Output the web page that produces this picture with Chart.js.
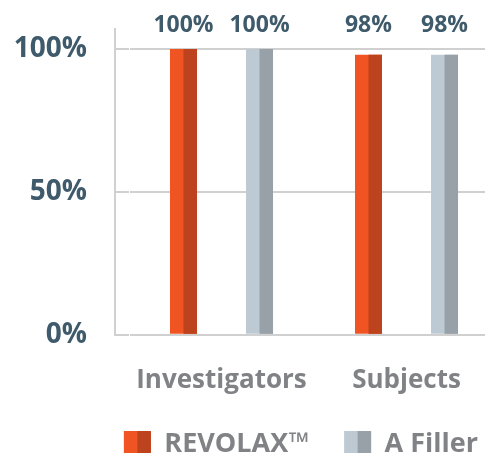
<!DOCTYPE html>
<html>
<head>
<meta charset="utf-8">
<script src="https://cdn.jsdelivr.net/npm/chart.js@4"></script>
<style>
  html, body { margin: 0; padding: 0; background: #fff; overflow: hidden; }
  #wrap { width: 513px; height: 468px; position: relative; }
</style>
</head>
<body>
<div id="wrap"><canvas id="chart"></canvas></div>
<script>
const categories = ['Investigators', 'Subjects'];
const revolax = [100, 98];
const aFiller = [100, 98];
const yTicks = [0, 50, 100];

const slate = '#3f5b6b';
const greyText = '#808285';
const gridColor = '#d0d0d0';

// each bar is two-tone: light left half, dark right half
const twoTone = {
    id: 'twoTone',
    afterDatasetsDraw(chart) {
        const ctx = chart.ctx;
        const yScale = chart.scales.y;
        ctx.save();
        chart.data.datasets.forEach((ds, i) => {
            const meta = chart.getDatasetMeta(i);
            meta.data.forEach((bar, j) => {
                const p = bar.getProps(['x', 'y', 'base', 'width'], true);
                ctx.fillStyle = ds.darkColor;
                ctx.fillRect(p.x, p.y, p.width / 2, p.base - p.y);
                ctx.fillStyle = slate;
                ctx.font = 'bold 23px "Open Sans"';
                ctx.textAlign = 'center';
                ctx.textBaseline = 'alphabetic';
                ctx.fillText(ds.data[j] + '%', p.x, yScale.getPixelForValue(100) - 17);
            });
        });
        ctx.restore();
    },
    afterDraw(chart) {
        const lg = chart.legend;
        const ctx = chart.ctx;
        const lo = lg.options.labels;
        ctx.save();
        lg.legendHitBoxes.forEach((hb, i) => {
            const ds = chart.data.datasets[lg.legendItems[i].datasetIndex];
            const top = hb.top + Math.max((lo.font.size - lo.boxHeight) / 2, 0);
            ctx.fillStyle = ds.darkColor;
            ctx.fillRect(hb.left + lo.boxWidth / 2, top, lo.boxWidth / 2, lo.boxHeight);
        });
        ctx.restore();
    }
};

function fixTicks(scale) {
    scale.ticks = yTicks.map(v => ({ value: v }));
}

new Chart(document.getElementById('chart'), {
    type: 'bar',
    data: {
        labels: categories,
        datasets: [{
            label: 'REVOLAX™',
            data: revolax,
            backgroundColor: '#f05423',
            darkColor: '#bd431e',
            borderWidth: 0
        },
        {
            label: 'A Filler',
            data: aFiller,
            backgroundColor: '#bdcad3',
            darkColor: '#97a1a7',
            borderWidth: 0
        }]
    },
    options: {
        responsive: true,
        maintainAspectRatio: false,
        animation: false,
        categoryPercentage: 0.822,
        barPercentage: 0.355,
        layout: { padding: { top: 29 } },
        scales: {
            x: {
                afterFit(scale) { scale.height -= 30; },
                grid: { display: false, drawTicks: false },
                border: { display: false },
                ticks: {
                    color: greyText,
                    font: { family: 'Open Sans', size: 26, weight: 'bold' },
                    padding: 30
                }
            },
            y: {
                min: 0,
                max: 107,
                weight: 2,
                afterBuildTicks: fixTicks,
                afterFit(scale) { scale.width = 115; },
                grid: { color: gridColor, lineWidth: 2, drawTicks: true, tickLength: 28, tickColor: 'rgba(0,0,0,0)' },
                border: { display: true, color: gridColor, width: 2 },
                ticks: {
                    color: slate,
                    font: { family: 'Open Sans', size: 28, weight: 'bold' },
                    padding: 0,
                    callback: (v) => v + '%'
                }
            },
            yStub: {
                type: 'linear',
                position: 'left',
                min: 0,
                max: 107,
                weight: 1,
                afterBuildTicks: fixTicks,
                afterFit(scale) { scale.width = 14; },
                grid: { color: gridColor, lineWidth: 2, drawOnChartArea: false, drawTicks: true, tickLength: 14 },
                border: { display: false },
                ticks: { display: false }
            },
            yRight: {
                type: 'linear',
                position: 'right',
                min: 0,
                max: 107,
                afterFit(scale) { scale.width = 14; },
                grid: { display: false, drawTicks: false },
                border: { display: false },
                ticks: { display: false }
            }
        },
        plugins: {
            legend: {
                position: 'bottom',
                align: 'end',
                labels: {
                    color: greyText,
                    font: { family: 'Open Sans', size: 27, weight: 'bold' },
                    boxWidth: 27,
                    boxHeight: 27,
                    padding: 35
                }
            },
            tooltip: { enabled: false }
        }
    },
    plugins: [twoTone]
});
</script>
</body>
</html>
